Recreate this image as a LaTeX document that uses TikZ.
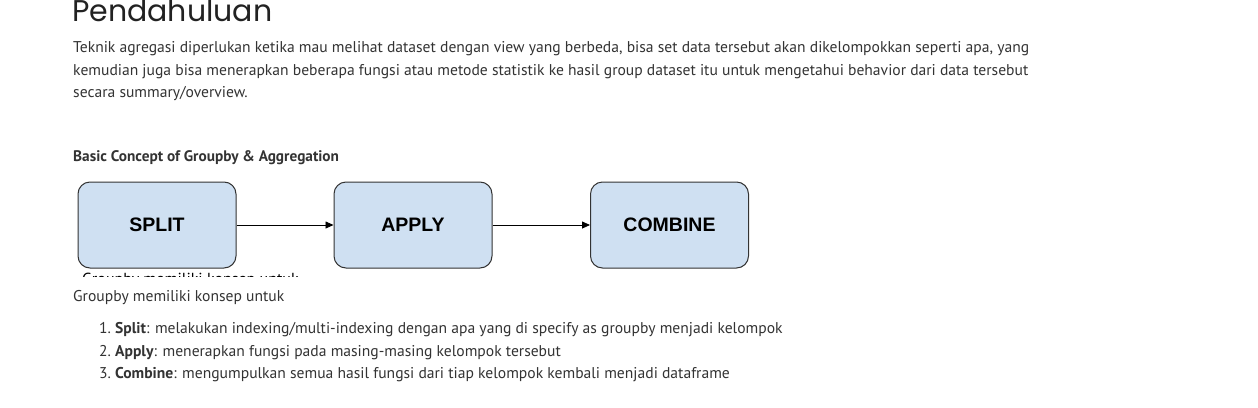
\documentclass[tikz,border=0pt]{standalone}
\usepackage{fontspec}
\setmainfont{PT Sans}
\newfontfamily\titlefont{Poppins}
\newfontfamily\boxfont{Liberation Sans}
\usetikzlibrary{arrows.meta}
\definecolor{txt}{RGB}{51,51,51}
\definecolor{ttl}{RGB}{34,34,34}
\definecolor{boxfill}{RGB}{207,224,242}
\definecolor{boxline}{RGB}{51,51,51}
\tikzset{
  para/.style={anchor=base west, inner sep=0pt, text=txt, font=\fontsize{15.6}{18}\selectfont},
  boxnode/.style={draw=boxline, fill=boxfill, line width=1pt, rounded corners=12pt,
    minimum width=158pt, minimum height=86pt, inner sep=0pt,
    font=\boxfont\bfseries\fontsize{19.5}{22}\selectfont, text=black},
  flow/.style={draw=black, line width=0.8pt, -{Triangle[length=8pt,width=7pt]}}
}
\begin{document}
\begin{tikzpicture}[x=1pt,y=-1pt]
\useasboundingbox (0,0) rectangle (1258,407);
\fill[white] (0,0) rectangle (1258,407);
\node[anchor=base west, inner sep=0pt, text=ttl, font=\titlefont\fontsize{30}{32}\selectfont] (title) at (72,21) {Pendahuluan};
\node[para] (p1) at (73,52) {Teknik agregasi diperlukan ketika mau melihat dataset dengan view yang berbeda, bisa set data tersebut akan dikelompokkan seperti apa, yang};
\node[para] (p2) at (73,75) {kemudian juga bisa menerapkan beberapa fungsi atau metode statistik ke hasil group dataset itu untuk mengetahui behavior dari data tersebut};
\node[para] (p3) at (73,97) {secara summary/overview.};
\node[para, font=\bfseries\fontsize{15.3}{18}\selectfont] (head) at (73,161) {Basic Concept of Groupby \& Aggregation};
\node[boxnode] (split) at (157,225) {SPLIT};
\node[boxnode] (apply) at (413,225) {APPLY};
\node[boxnode] (combine) at (669.5,225) {COMBINE};
\draw[flow] (split) -- (apply);
\draw[flow] (apply) -- (combine);
\begin{scope}
\clip (70,272.5) rectangle (320,276);
\node[para, anchor=north west, text=black, font=\fontsize{16}{18}\selectfont] (cut) at (82,273) {Groupby memiliki konsep untuk};
\end{scope}
\node[para] (intro) at (73,301) {Groupby memiliki konsep untuk};
\node[para] (l1) at (99,333) {1.\ \textbf{Split}: melakukan indexing/multi-indexing dengan apa yang di specify as groupby menjadi kelompok};
\node[para] (l2) at (99,356) {2.\ \textbf{Apply}: menerapkan fungsi pada masing-masing kelompok tersebut};
\node[para] (l3) at (99,378) {3.\ \textbf{Combine}: mengumpulkan semua hasil fungsi dari tiap kelompok kembali menjadi dataframe};
\end{tikzpicture}
\end{document}
